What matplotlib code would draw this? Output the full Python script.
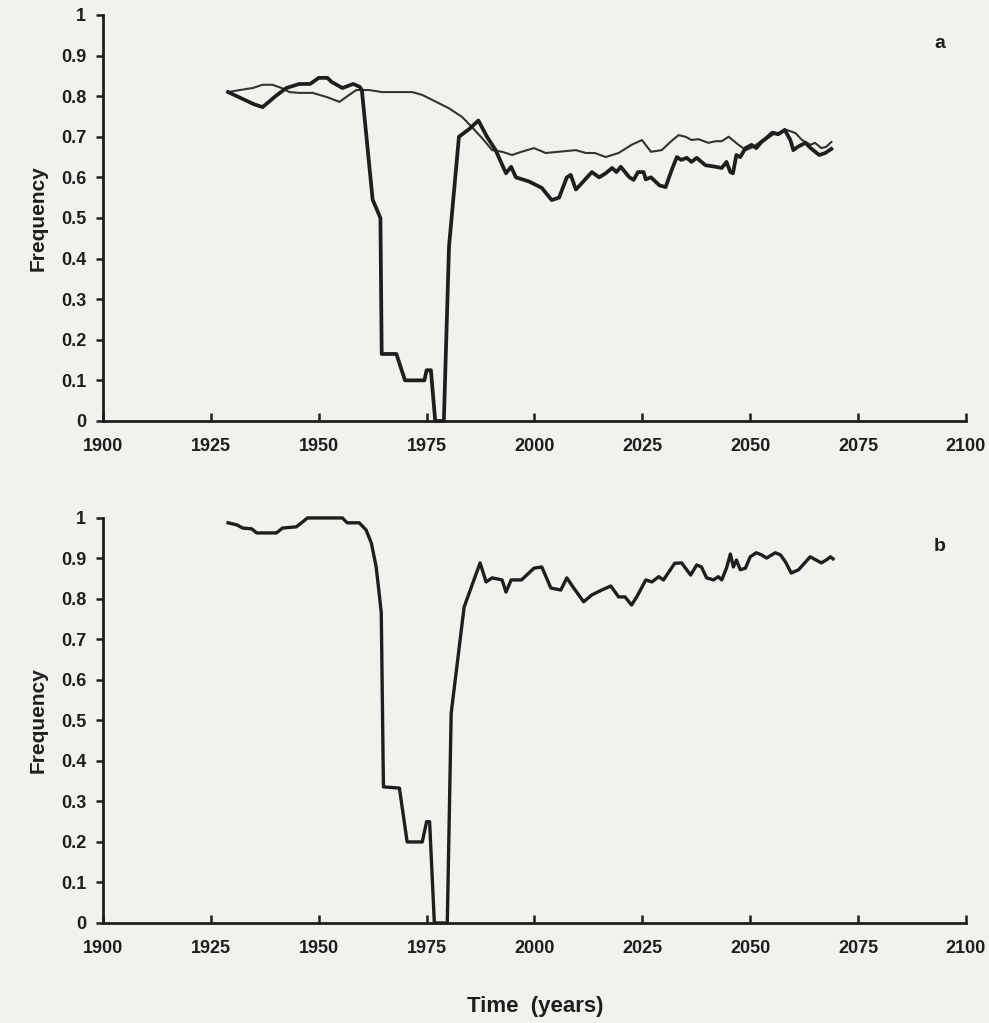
import matplotlib
matplotlib.use("Agg")
import matplotlib.pyplot as plt

# ---- Panel a: thick series (crashes to zero) ----
a_thick_years = [1929, 1931, 1933, 1935, 1937, 1940, 1942.5, 1945.5, 1948, 1950, 1952, 1953,
                 1955.5, 1958, 1959.5, 1960, 1962.5, 1964.3, 1964.6, 1968, 1970, 1974.5, 1975,
                 1976, 1977, 1979, 1980.2, 1982.5, 1985, 1987, 1989, 1991, 1993.4, 1994.6,
                 1995.7, 1998.7, 2001.7, 2004, 2005.7, 2007.5, 2008.4, 2009.6, 2011, 2013.3,
                 2015, 2016.5, 2018, 2019, 2020, 2022, 2023, 2024, 2025.3, 2025.8, 2027, 2029,
                 2030.4, 2031.8, 2033, 2034, 2035.3, 2036.4, 2037.6, 2039.6, 2042, 2043.4,
                 2044.5, 2045.4, 2046, 2046.8, 2047.7, 2048.9, 2050.3, 2051.4, 2052.6, 2054.2,
                 2055.4, 2056.5, 2058, 2059.3, 2060, 2061, 2062.8, 2064, 2066, 2067.4, 2068.8]
a_thick_vals = [0.81, 0.80, 0.79, 0.78, 0.773, 0.80, 0.82, 0.83, 0.83, 0.845, 0.845, 0.835,
                0.82, 0.83, 0.823, 0.815, 0.545, 0.50, 0.165, 0.165, 0.10, 0.10, 0.125,
                0.125, 0.0, 0.0, 0.43, 0.70, 0.72, 0.74, 0.70, 0.667, 0.61, 0.626,
                0.60, 0.59, 0.574, 0.544, 0.55, 0.60, 0.606, 0.57, 0.586, 0.613,
                0.60, 0.61, 0.623, 0.613, 0.626, 0.60, 0.594, 0.613, 0.613, 0.595, 0.60, 0.58,
                0.576, 0.618, 0.65, 0.643, 0.648, 0.638, 0.648, 0.63, 0.626, 0.623,
                0.638, 0.613, 0.61, 0.655, 0.65, 0.672, 0.68, 0.672, 0.687, 0.70,
                0.709, 0.706, 0.717, 0.692, 0.667, 0.675, 0.685, 0.672, 0.655, 0.66, 0.67]

# ---- Panel a: thin series ----
a_thin_years = [1929, 1931.7, 1934.7, 1937, 1939.3, 1941.4, 1943.2, 1945.5, 1948.6, 1951.8,
                1954.8, 1956.4, 1958.7, 1961.7, 1964.7, 1968, 1971.7, 1974, 1977.2, 1980.2,
                1983.2, 1985.5, 1988, 1990.2, 1992.5, 1994.8, 1997, 1999.9, 2002.6, 2005.6,
                2009.6, 2011.9, 2014, 2016.5, 2019.5, 2022.5, 2024.9, 2027, 2029.5, 2031.8,
                2033.4, 2035, 2036.4, 2038, 2040.3, 2042, 2043.4, 2045, 2047.3, 2049, 2050.7,
                2052, 2053.5, 2055, 2056.5, 2058.4, 2060.5, 2062, 2064, 2065, 2066.5, 2067.6,
                2068.8]
a_thin_vals = [0.81, 0.815, 0.82, 0.828, 0.828, 0.82, 0.81, 0.808, 0.808, 0.798,
               0.786, 0.798, 0.815, 0.815, 0.81, 0.81, 0.81, 0.803, 0.786, 0.77,
               0.749, 0.724, 0.695, 0.667, 0.663, 0.655, 0.663, 0.672, 0.66, 0.663,
               0.667, 0.66, 0.66, 0.65, 0.66, 0.68, 0.692, 0.663, 0.667, 0.69,
               0.704, 0.70, 0.692, 0.694, 0.685, 0.689, 0.689, 0.70, 0.68, 0.667, 0.675,
               0.685, 0.697, 0.712, 0.709, 0.717, 0.709, 0.692, 0.68, 0.685, 0.672, 0.675,
               0.687]

# ---- Panel b ----
b_years = [1929, 1931, 1932.4, 1934.5, 1935.6, 1940.2, 1941.6, 1944.8, 1946, 1947.4, 1955.5,
           1956.6, 1959.4, 1961, 1962.2, 1963.3, 1964, 1964.5, 1965, 1968.7, 1970.5, 1974,
           1975, 1975.7, 1976.8, 1979.8, 1980.7, 1983.7, 1987.4, 1988.8, 1990.2, 1992.5,
           1993.4, 1994.6, 1997, 1999.9, 2001.7, 2003.8, 2006.1, 2007.5, 2009.1, 2011.4,
           2013.3, 2015.6, 2017.7, 2019.5, 2021, 2022.5, 2023.7, 2025.8, 2027.2, 2028.8,
           2029.9, 2032.5, 2034.1, 2036.2, 2037.6, 2038.7, 2039.9, 2041.5, 2042.6, 2043.4,
           2044.5, 2045.4, 2046.1, 2046.8, 2047.7, 2048.9, 2050, 2051.4, 2052.6, 2053.8,
           2055.8, 2057, 2058.2, 2059.5, 2061.2, 2062.8, 2063.9, 2065.3, 2066.5, 2067.6,
           2068.6, 2069.2]
b_vals = [0.988, 0.983, 0.975, 0.973, 0.963, 0.963, 0.975, 0.978, 0.988, 1.0, 1.0,
          0.988, 0.988, 0.97, 0.938, 0.88, 0.815, 0.765, 0.336, 0.333, 0.20, 0.20,
          0.25, 0.25, 0.0, 0.0, 0.518, 0.78, 0.889, 0.842, 0.852, 0.847,
          0.817, 0.847, 0.847, 0.876, 0.879, 0.827, 0.822, 0.852, 0.827, 0.793,
          0.81, 0.822, 0.832, 0.805, 0.805, 0.785, 0.805, 0.847, 0.842, 0.855,
          0.847, 0.888, 0.889, 0.859, 0.884, 0.879, 0.852, 0.847, 0.855, 0.847,
          0.876, 0.911, 0.879, 0.896, 0.872, 0.876, 0.904, 0.914, 0.909, 0.901,
          0.914, 0.909, 0.891, 0.864, 0.872, 0.891, 0.904, 0.896, 0.889, 0.896,
          0.904, 0.899]

x_ticks = [1900, 1925, 1950, 1975, 2000, 2025, 2050, 2075, 2100]
y_ticks = [0, 0.1, 0.2, 0.3, 0.4, 0.5, 0.6, 0.7, 0.8, 0.9, 1]
y_ticklabels = ["0", "0.1", "0.2", "0.3", "0.4", "0.5", "0.6", "0.7", "0.8", "0.9", "1"]

plt.rcParams['font.family'] = ['Liberation Sans', 'DejaVu Sans']
bg = '#f1f1ee'
ink = '#1e1e1e'

fig = plt.figure(figsize=(9.89, 10.23), dpi=100, facecolor=bg)
ax_a = fig.add_axes([0.1041, 0.5885, 0.8726, 0.3969])
ax_b = fig.add_axes([0.1041, 0.0978, 0.8726, 0.3959])

ax_a.plot(a_thin_years, a_thin_vals, color='#333333', lw=1.5, clip_on=False, zorder=3)
ax_a.plot(a_thick_years, a_thick_vals, color=ink, lw=2.7, clip_on=False, zorder=4)
ax_b.plot(b_years, b_vals, color=ink, lw=2.4, clip_on=False, zorder=4)

for ax, letter in ((ax_a, 'a'), (ax_b, 'b')):
    ax.set_facecolor(bg)
    ax.set_xlim(1900, 2100)
    ax.set_ylim(0, 1)
    ax.spines['top'].set_visible(False)
    ax.spines['right'].set_visible(False)
    for s in ('left', 'bottom'):
        ax.spines[s].set_linewidth(2.0)
        ax.spines[s].set_color(ink)
    ax.set_xticks(x_ticks)
    ax.set_xticklabels([str(t) for t in x_ticks], fontsize=13, fontweight='bold', color=ink)
    ax.set_yticks(y_ticks)
    ax.set_yticklabels(y_ticklabels, fontsize=13, fontweight='bold', color=ink)
    ax.tick_params(axis='x', direction='in', length=6, width=1.8, pad=12, color=ink)
    ax.tick_params(axis='y', direction='out', length=5, width=1.8, pad=7, color=ink)
    ax.set_ylabel('Frequency', fontsize=15, fontweight='bold', color=ink, labelpad=10)
    ax.text(0.97, 0.93, letter, transform=ax.transAxes, fontsize=14, fontweight='bold',
            color=ink, ha='center', va='center')

fig.text(0.541, 0.016, 'Time  (years)', fontsize=16, fontweight='bold', color=ink,
         ha='center', va='center')

fig.savefig('out.png', dpi=100, facecolor=bg)
